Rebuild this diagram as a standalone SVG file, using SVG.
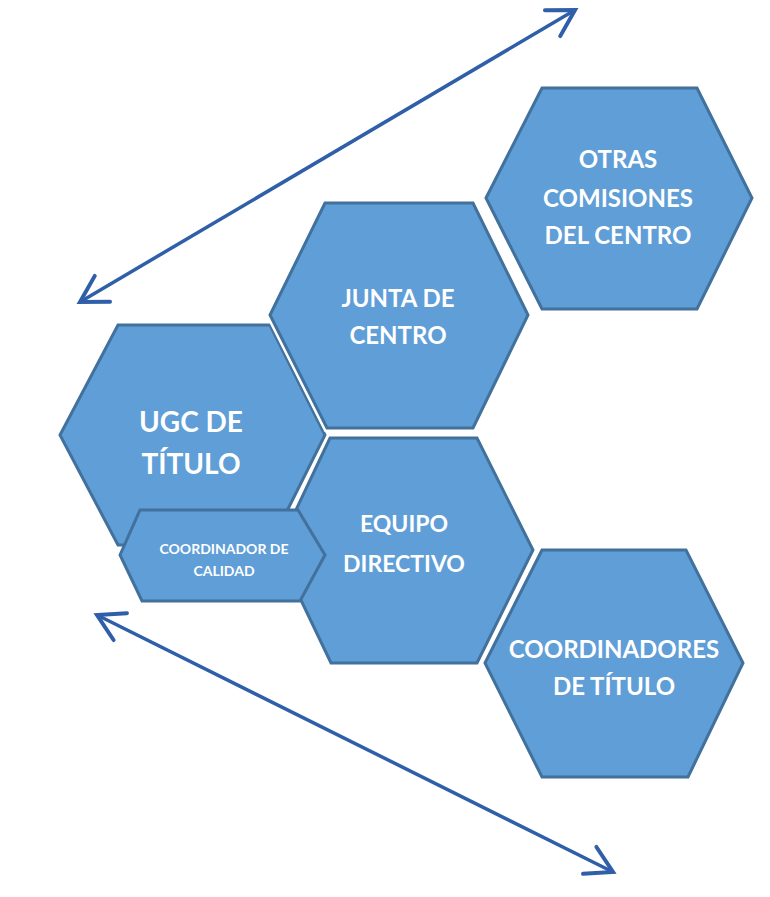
<svg xmlns="http://www.w3.org/2000/svg" width="770" height="897" viewBox="0 0 770 897">
  <style>
    .halo { fill: none; stroke: #ffffff; stroke-width: 8; stroke-linejoin: miter; }
    .hex { fill: #5f9ed6; stroke: #41719c; stroke-width: 3; stroke-linejoin: miter; }
    .lbl { fill: #ffffff; font-family: Lato, "Liberation Sans", sans-serif; font-weight: bold; text-anchor: middle; }
    .arrow { stroke: #2f5fa8; stroke-width: 3.5; fill: none; }
  </style>
  <defs>
    <marker id="head" markerUnits="userSpaceOnUse" markerWidth="40" markerHeight="40" viewBox="-30 -20 34 40" refX="0" refY="0" orient="auto-start-reverse" overflow="visible">
      <path d="M -26 -15 L 0 0 L -26 15" fill="none" stroke="#2f5fa8" stroke-width="4" stroke-linecap="round" stroke-linejoin="miter"/>
    </marker>
  </defs>
  <rect width="770" height="897" fill="#ffffff"/>

  <g id="connectors">
    <line class="arrow" x1="80" y1="302" x2="575" y2="10" marker-start="url(#head)" marker-end="url(#head)"/>
    <line class="arrow" x1="97" y1="615" x2="613" y2="872" marker-start="url(#head)" marker-end="url(#head)"/>
  </g>

  <g id="ugc">
    <polygon class="halo" points="60,435 118,325 270,325 325,435 270,545 118,545"/>
    <polygon class="hex" points="60,435 118,325 270,325 325,435 270,545 118,545"/>
    <text class="lbl" x="191" y="432" font-size="28">UGC DE</text>
    <text class="lbl" x="191" y="474" font-size="28">TÍTULO</text>
  </g>

  <g id="junta">
    <polygon class="halo" points="270,315 325,203 473,203 528,315 473,428 327,428"/>
    <polygon class="hex" points="270,315 325,203 473,203 528,315 473,428 327,428"/>
    <text class="lbl" x="398" y="307" font-size="24">JUNTA DE</text>
    <text class="lbl" x="398" y="344" font-size="24">CENTRO</text>
  </g>

  <g id="equipo">
    <polygon class="halo" points="277,550 330,438 477,438 533,550 477,663 331,663"/>
    <polygon class="hex" points="277,550 330,438 477,438 533,550 477,663 331,663"/>
    <text class="lbl" x="404" y="532" font-size="23">EQUIPO</text>
    <text class="lbl" x="404" y="572" font-size="23">DIRECTIVO</text>
  </g>

  <g id="coordinador">
    <polygon class="hex" points="120,555 140,510 298,510 325,555 300,601 142,601"/>
    <text class="lbl" x="224" y="554" font-size="14">COORDINADOR DE</text>
    <text class="lbl" x="224" y="576" font-size="14">CALIDAD</text>
  </g>

  <g id="otras">
    <polygon class="halo" points="486,198 542,88 697,88 752,198 697,309 542,309"/>
    <polygon class="hex" points="486,198 542,88 697,88 752,198 697,309 542,309"/>
    <text class="lbl" x="618" y="168" font-size="24">OTRAS</text>
    <text class="lbl" x="618" y="207" font-size="24">COMISIONES</text>
    <text class="lbl" x="618" y="244" font-size="24">DEL CENTRO</text>
  </g>

  <g id="coordinadores">
    <polygon class="halo" points="485,663 542,550 686,550 743,663 688,777 542,777"/>
    <polygon class="hex" points="485,663 542,550 686,550 743,663 688,777 542,777"/>
    <text class="lbl" x="614" y="658" font-size="24">COORDINADORES</text>
    <text class="lbl" x="614" y="695" font-size="24">DE TÍTULO</text>
  </g>
</svg>
